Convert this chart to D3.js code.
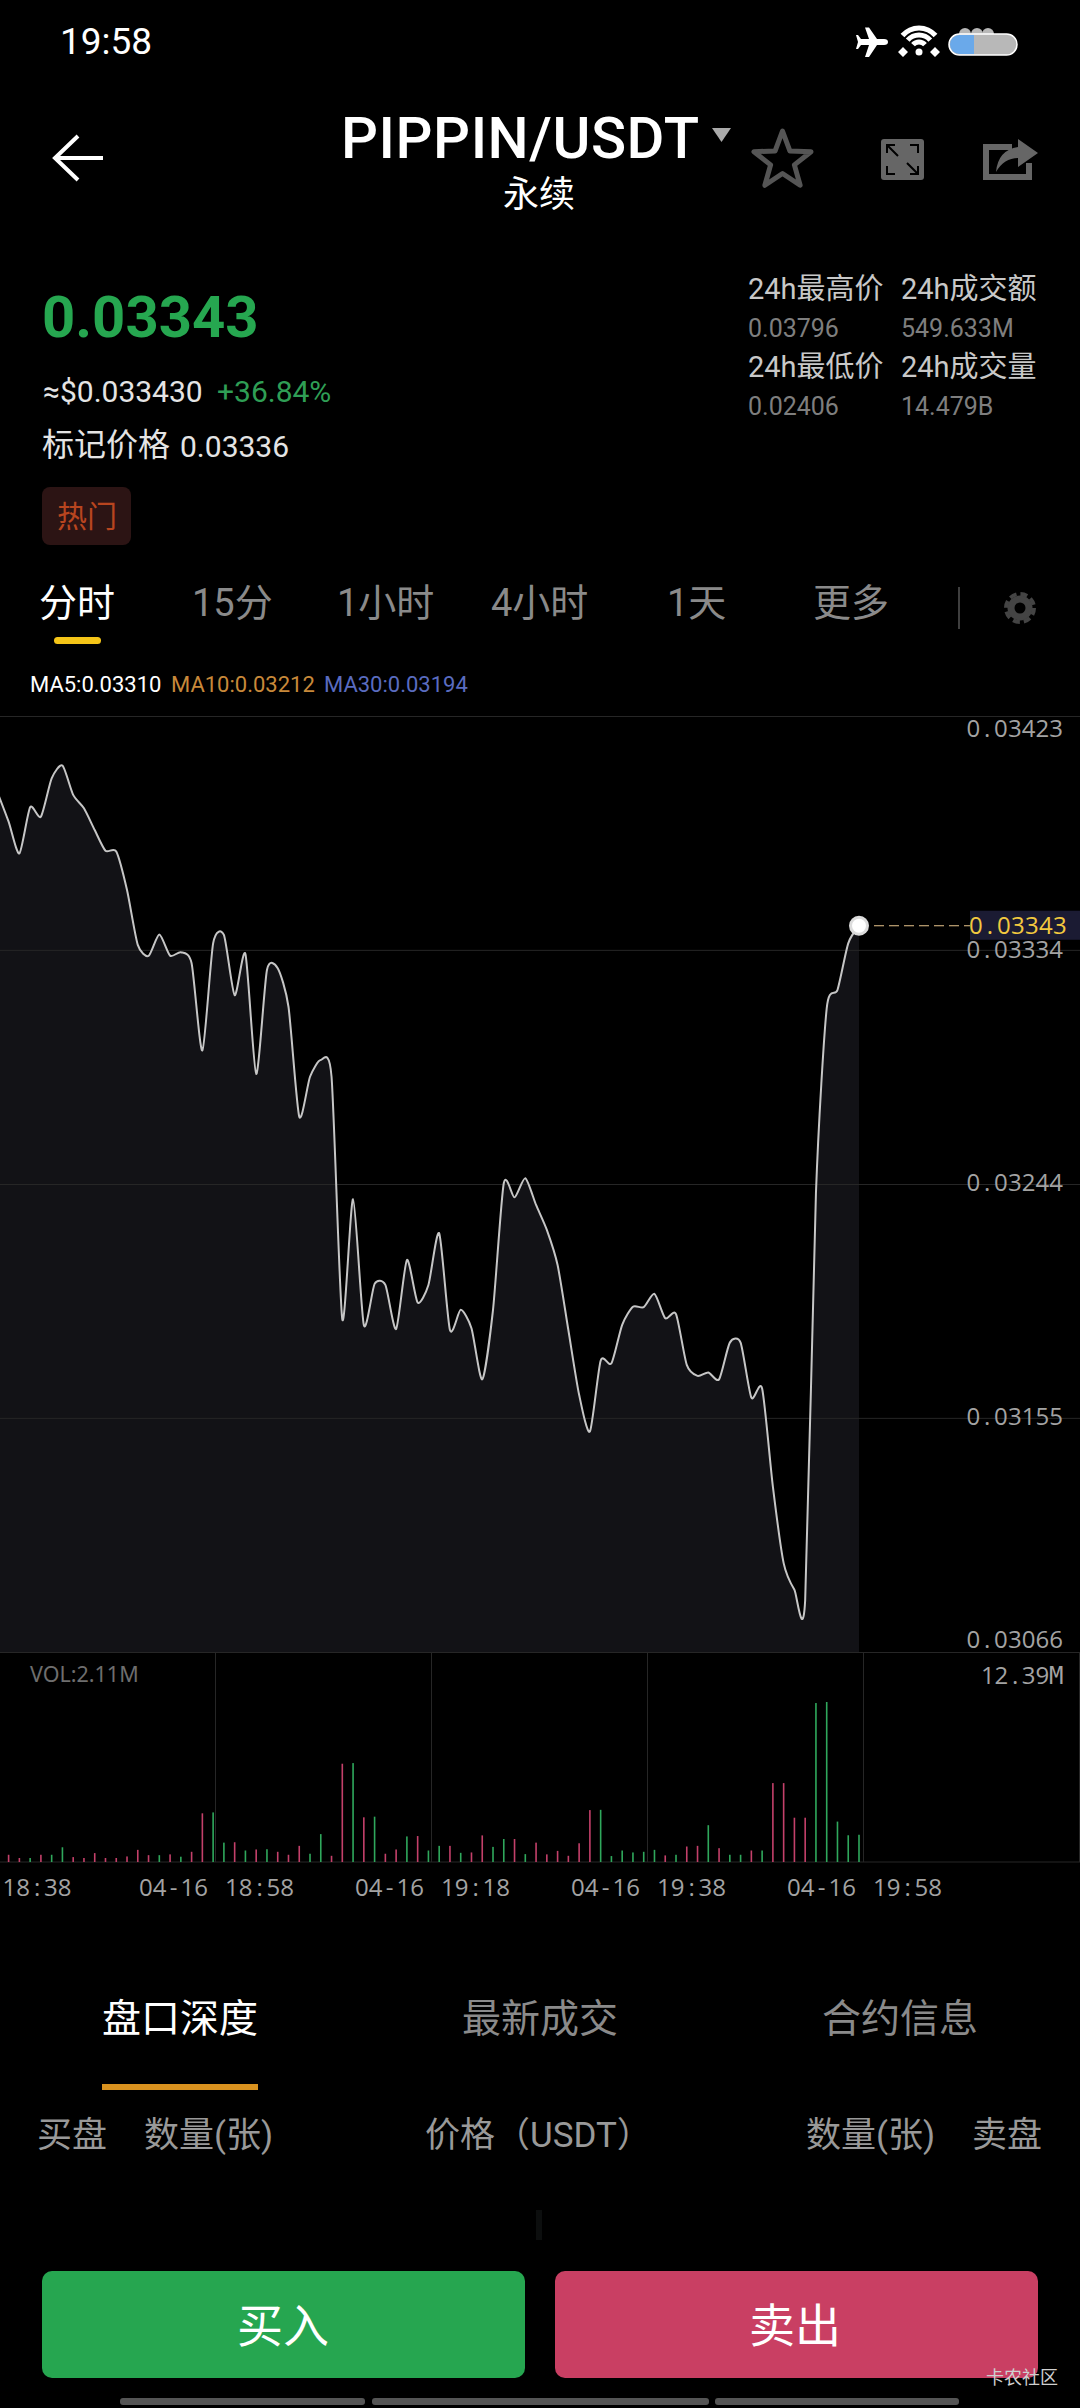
<!DOCTYPE html>
<html>
<head>
<meta charset="utf-8">
<script src="https://cdn.jsdelivr.net/npm/d3@7"></script>
<style>
  html, body { margin: 0; background: #000; }
  svg { display: block; }
  text { font-family: Roboto, "Noto Sans CJK SC", sans-serif; }
  .cjk { font-family: "Noto Sans CJK SC", sans-serif; }
  .tick text { font-family: "Open Sans", sans-serif; }
</style>
</head>
<body>
<script>
// prices per minute, first one sits just off the left edge
var prices = [
  0.033935, 0.033827, 0.033706, 0.033882, 0.033846, 0.033992, 0.034041, 0.033929, 0.033878, 0.033795,
  0.033716, 0.033713, 0.033566, 0.033357, 0.033315, 0.033397, 0.033316, 0.033329, 0.033287, 0.032954,
  0.033363, 0.033395, 0.033165, 0.033322, 0.032865, 0.033261, 0.033268, 0.033121, 0.032702, 0.032854,
  0.032918, 0.032854, 0.031929, 0.032387, 0.031907, 0.032064, 0.032060, 0.031892, 0.032155, 0.031993,
  0.032060, 0.032257, 0.031888, 0.031965, 0.031895, 0.031700, 0.031965, 0.032448, 0.032394, 0.032467,
  0.032365, 0.032270, 0.032136, 0.031888, 0.031641, 0.031501, 0.031771, 0.031761, 0.031908, 0.031977,
  0.031975, 0.032026, 0.031933, 0.031949, 0.031755, 0.031713, 0.031726, 0.031700, 0.031840, 0.031840,
  0.031630, 0.031665, 0.031291, 0.030999, 0.030897, 0.030858, 0.032410, 0.033115, 0.033185, 0.033363,
  0.033430
];
// volume in millions, same minutes
var volumes = [
  0.40, 0.56, 0.31, 0.31, 0.56, 0.56, 1.14, 0.38, 0.31, 0.69,
  0.31, 0.31, 0.43, 0.94, 0.53, 0.53, 0.59, 0.41, 0.79, 3.77,
  3.84, 1.50, 1.53, 0.89, 0.97, 0.99, 0.79, 0.56, 1.25, 0.64,
  2.16, 0.48, 7.61, 7.66, 3.46, 3.51, 0.64, 0.97, 1.98, 2.01,
  0.89, 1.25, 1.25, 0.71, 0.74, 2.06, 1.17, 1.78, 1.78, 0.61,
  1.50, 0.59, 0.86, 0.48, 1.45, 4.02, 4.04, 0.46, 0.89, 0.74,
  0.79, 0.94, 0.51, 0.56, 1.20, 1.25, 2.85, 1.07, 0.56, 0.56,
  0.89, 0.89, 6.11, 6.11, 3.43, 3.43, 12.31, 12.39, 3.13, 2.07,
  2.11
];
// 1 = green bar, 0 = red bar
var volumeUp = [
  0, 0, 0, 1, 0, 1, 1, 0, 0, 0,
  0, 0, 0, 0, 0, 1, 0, 1, 0, 0,
  1, 1, 0, 1, 0, 1, 0, 0, 0, 1,
  1, 0, 0, 1, 0, 1, 0, 0, 1, 0,
  1, 1, 0, 1, 0, 0, 1, 1, 0, 1,
  0, 0, 0, 0, 0, 0, 1, 1, 1, 1,
  1, 1, 0, 1, 0, 0, 1, 0, 1, 1,
  0, 1, 0, 0, 0, 0, 1, 1, 1, 1,
  1
];
var priceTicks = [0.03423, 0.033338, 0.032445, 0.031553, 0.03066];
var priceLabels = ["0.03423", "0.03334", "0.03244", "0.03155", "0.03066"];
var timeTicks = ["18:38", "18:58", "19:18", "19:38", "19:58", "20:18"];
var volTop = 12.39;
var lastPrice = 0.03343;
var maLabels = ["MA5:0.03310", "MA10:0.03212", "MA30:0.03194"];
var periods = ["分时", "15分", "1小时", "4小时", "1天", "更多"];
var bottomTabs = ["盘口深度", "最新成交", "合约信息"];
var depthHead = ["买盘", "数量(张)", "价格（USDT）", "数量(张)", "卖盘"];

var width = 1080, height = 2408;
var priceTop = 716, priceBottom = 1652, volBase = 1862;

var svg = d3.select("body").append("svg").attr("width", width).attr("height", height);

// small helper for all the plain labels
function label(str, x, y, size, color, anchor, cls) {
  return svg.append("text").attr("x", x).attr("y", y)
    .attr("font-size", size).attr("fill", color)
    .attr("text-anchor", anchor || "start")
    .attr("class", cls || null).text(str);
}

// the chart font is monospaced but has a plain zero, so place glyphs one by one
function monoText(sel, str, left, pitch, gap) {
  sel.text(null);
  var pos = left;
  str.split("").forEach(function(c) {
    if (c == " ") { pos += gap; return; }
    var shift = (c == "." || c == ":") ? 3.8 : (c == "-" ? 3.2 : 0);
    var t = sel.append("tspan").attr("x", pos + shift).text(c);
    if (c == "M") t.style("font-family", "DejaVu Sans Mono");
    pos += pitch;
  });
}

/* ---------- scales ---------- */
var x = d3.scalePoint().domain(d3.range(prices.length)).range([-2.16, 859]);
var y = d3.scaleLinear().domain([0.03066, 0.03423]).range([priceBottom, priceTop]);
var vol = d3.scaleLinear().domain([0, volTop]).range([volBase, 1702]);
var parseTime = d3.timeParse("%m-%d %H:%M");
var t = d3.scaleTime().domain([parseTime("04-16 18:38"), parseTime("04-16 19:58")]).range([-1, 863]);

/* ---------- price pane ---------- */
var curve = d3.curveCardinal.tension(0.3);
var area = d3.area().x(function(d, i) { return x(i); }).y0(priceBottom).y1(function(d) { return y(d); }).curve(curve);
var line = d3.line().x(function(d, i) { return x(i); }).y(function(d) { return y(d); }).curve(curve);

svg.append("path").datum(prices).attr("d", area).attr("fill", "#121216");

var yAxis = d3.axisRight(y).tickValues(priceTicks).tickSize(width)
  .tickFormat(function(d, i) { return priceLabels[i]; });
var yG = svg.append("g").call(yAxis);
yG.select(".domain").remove();
yG.selectAll(".tick line").attr("stroke", "#262626");
var yOffset = [20, 8, 6, 7, -5];
yG.selectAll(".tick text").each(function(d, i) {
  var sel = d3.select(this).attr("y", yOffset[i]).attr("dy", 0).attr("x", 0)
    .attr("text-anchor", "start").attr("font-size", 24).attr("fill", "#a3a3a3");
  monoText(sel, priceLabels[i], 966.5, 13.8, 0);
});

svg.append("path").datum(prices).attr("d", line)
  .attr("fill", "none").attr("stroke", "#c6c6c6").attr("stroke-width", 2);

// last price marker
var lastX = x(prices.length - 1);
svg.append("line").attr("x1", lastX + 15).attr("x2", 970).attr("y1", y(lastPrice)).attr("y2", y(lastPrice))
  .attr("stroke", "#e6c48c").attr("stroke-width", 1.2).attr("stroke-dasharray", "10 5");
svg.append("circle").attr("cx", lastX).attr("cy", y(lastPrice)).attr("r", 10).attr("fill", "#dcdcdc");
svg.append("circle").attr("cx", lastX).attr("cy", y(lastPrice)).attr("r", 7).attr("fill", "#fff");
svg.append("rect").attr("x", 970).attr("y", y(lastPrice) - 15).attr("width", 110).attr("height", 29).attr("fill", "#1b1b33");
var lastLabel = svg.append("text").attr("y", y(lastPrice) + 8).attr("font-size", 24).attr("fill", "#f2c93f")
  .style("font-family", "'Open Sans', sans-serif");
monoText(lastLabel, "0.03343", 969, 14, 0);

/* ---------- volume pane ---------- */
var xAxis = d3.axisBottom(t).tickValues(timeTicks.map(function(s) { return parseTime("04-16 " + s); })).tickSize(volBase - priceBottom);
var xG = svg.append("g").attr("transform", "translate(0," + priceBottom + ")").call(xAxis);
xG.select(".domain").remove();
xG.selectAll(".tick line").attr("stroke", "#262626");
xG.selectAll(".tick text").each(function(d, i) {
  var sel = d3.select(this).attr("y", 244).attr("dy", 0).attr("text-anchor", "start")
    .attr("font-size", 24).attr("fill", "#a3a3a3");
  if (i == timeTicks.length - 1) { sel.text(null); return; }
  // first label is pushed slightly left in the app
  monoText(sel, "04-16 " + timeTicks[i], i == 0 ? -83 : -76.5, 13.8, 17);
});

svg.append("line").attr("x1", 0).attr("x2", width).attr("y1", volBase).attr("y2", volBase).attr("stroke", "#262626");

svg.selectAll(".vol").data(volumes).enter().append("rect")
  .attr("class", "vol")
  .attr("x", function(d, i) { return x(i) - 0.8; })
  .attr("width", 1.6)
  .attr("y", function(d) { return vol(d); })
  .attr("height", function(d) { return volBase - vol(d); })
  .attr("fill", function(d, i) { return volumeUp[i] ? "#2fa85c" : "#c4406a"; });

label("VOL:2.11M", 30, 1682, 21.5, "#6e6e6e").style("font-family", "'Noto Sans', sans-serif");
var volMax = svg.append("g").attr("transform", "translate(0,0)")
  .call(d3.axisRight(vol).tickValues([volTop]).tickSize(0));
volMax.select(".domain").remove();
volMax.selectAll(".tick text").each(function() {
  var sel = d3.select(this).attr("y", -19).attr("dy", 0).attr("font-size", 24).attr("fill", "#a3a3a3");
  monoText(sel, "12.39M", 981, 13.6, 0);
});

/* ---------- status bar ---------- */
label("19:58", 60, 54, 37, "#fff");
svg.append("path").attr("fill", "#fff")
  .attr("d", "M888 42Q888 39 884 39L877 39L869 27.5L865 27.5L869 39L861 39L858 35L856 35L858 42L856 49L858 49L861 45L869 45L865 57L869 57L877 45L884 45Q888 45 888 42Z");
[8, 15, 22].forEach(function(r) {
  svg.append("path").attr("transform", "translate(919,50)").attr("fill", "#fff")
    .attr("d", d3.arc()({ innerRadius: r - 2.5, outerRadius: r + 2.5, startAngle: -0.85, endAngle: 0.85 }));
});
svg.append("circle").attr("cx", 919).attr("cy", 52).attr("r", 3.5).attr("fill", "#fff");
svg.append("path").attr("fill", "#fff").attr("d", "M903 47L908 52L898 52ZM903 57L908 52L898 52ZM935 47L940 52L930 52ZM935 57L940 52L930 52Z");
[965, 977, 988].forEach(function(cx) {
  svg.append("circle").attr("cx", cx).attr("cy", 34).attr("r", 6).attr("fill", "#b8b8b8");
});
svg.append("rect").attr("x", 949).attr("y", 34).attr("width", 68).attr("height", 21).attr("rx", 10.5).attr("fill", "#b8b8b8").attr("stroke", "#fff").attr("stroke-width", 1.5);
svg.append("path").attr("fill", "#6aa9ea").attr("d", "M974 35L959.5 35A9.5 9.5 0 0 0 959.5 54L974 54Z");

/* ---------- title bar ---------- */
svg.append("path").attr("d", "M103 158L56 158M78 136L55 158L78 180").attr("fill", "none").attr("stroke", "#fff").attr("stroke-width", 4);
label("PIPPIN/USDT", 341, 158, 58, "#fff").attr("font-weight", 500).attr("textLength", 358);
svg.append("path").attr("d", "M712 128L731 128L721.5 142Z").attr("fill", "#aaa");
label("永续", 539, 207, 36, "#fff", "middle", "cjk");

var star = d3.range(10).map(function(i) {
  var r = i % 2 ? 12.5 : 30, a = i * Math.PI / 5;
  return [782.5 + r * Math.sin(a), 161 - r * Math.cos(a)];
});
svg.append("path").attr("d", d3.line().curve(d3.curveLinearClosed)(star)).attr("fill", "none").attr("stroke", "#555").attr("stroke-width", 5).attr("stroke-linejoin", "round");

svg.append("rect").attr("x", 881).attr("y", 139).attr("width", 43).attr("height", 41).attr("rx", 3).attr("fill", "#666");
svg.append("path").attr("fill", "none").attr("stroke", "#000").attr("stroke-width", 2)
  .attr("d", "M887 153L887 145L895 145M887 145L898 156M918 166L918 174L910 174M918 174L907 163M910 145L918 145L918 153M887 166L887 174L895 174");

svg.append("path").attr("fill", "none").attr("stroke", "#666").attr("stroke-width", 6).attr("d", "M1012 147L986 147L986 177L1029 177L1029 163");
svg.append("path").attr("fill", "#666").attr("d", "M1018 139L1038 153L1018 167L1018 158Q1004 158 996 172Q998 150 1018 147Z");

/* ---------- price block ---------- */
label("0.03343", 42, 337, 58, "#26a750").attr("font-weight", 700);
label("≈$0.033430", 43, 402, 30, "#e4e4e4");
label("+36.84%", 217, 402, 30, "#2f9e55");
label("标记价格", 42, 456, 32, "#e4e4e4", "start", "cjk");
label("0.03336", 180, 457, 30, "#e4e4e4");
svg.append("rect").attr("x", 42).attr("y", 487).attr("width", 89).attr("height", 58).attr("rx", 8).attr("fill", "#2c1414");
label("热门", 87, 527, 30, "#b8451f", "middle", "cjk");

label("24h最高价", 748, 299, 29, "#c8c8c8");
label("24h成交额", 901, 299, 29, "#c8c8c8");
label("0.03796", 748, 337, 25, "#7e7e7e");
label("549.633M", 901, 337, 25, "#7e7e7e");
label("24h最低价", 748, 377, 29, "#c8c8c8");
label("24h成交量", 901, 377, 29, "#c8c8c8");
label("0.02406", 748, 415, 25, "#7e7e7e");
label("14.479B", 901, 415, 25, "#7e7e7e");

/* ---------- period tabs ---------- */
var periodX = [39, 192, 337, 491, 667, 813];
periods.forEach(function(p, i) {
  label(p, periodX[i], 616, 38, i == 0 ? "#fff" : "#8a8a8a");
});
svg.append("rect").attr("x", 54).attr("y", 637).attr("width", 47).attr("height", 7).attr("rx", 3.5).attr("fill", "#f5c518");
svg.append("line").attr("x1", 959).attr("x2", 959).attr("y1", 587).attr("y2", 629).attr("stroke", "#555").attr("stroke-width", 1.5);
svg.append("circle").attr("cx", 1020).attr("cy", 608).attr("r", 9).attr("fill", "none").attr("stroke", "#444").attr("stroke-width", 7);
svg.append("circle").attr("cx", 1020).attr("cy", 608).attr("r", 14).attr("fill", "none").attr("stroke", "#444").attr("stroke-width", 4).attr("stroke-dasharray", "7 4");

var maColors = ["#fff", "#c8893a", "#5a6cc0"];
var maX = [30, 171, 324];
maLabels.forEach(function(m, i) { label(m, maX[i], 692, 22, maColors[i]); });

/* ---------- bottom tabs and buttons ---------- */
var tabX = [180, 540, 900];
bottomTabs.forEach(function(s, i) {
  label(s, tabX[i], 2032, 39, i == 0 ? "#fff" : "#8a8a8a", "middle", "cjk");
});
svg.append("rect").attr("x", 102).attr("y", 2084).attr("width", 156).attr("height", 6).attr("fill", "#d9921f");

var headX = [37, 144, 425, 806, 972];
depthHead.forEach(function(s, i) {
  label(s, headX[i], 2147, 35, "#999", "start");
});
svg.append("rect").attr("x", 536).attr("y", 2210).attr("width", 6).attr("height", 30).attr("fill", "#0c0e0e");

svg.append("rect").attr("x", 42).attr("y", 2271).attr("width", 483).attr("height", 107).attr("rx", 10).attr("fill", "#26a650");
svg.append("rect").attr("x", 555).attr("y", 2271).attr("width", 483).attr("height", 107).attr("rx", 10).attr("fill", "#c93f63");
label("买入", 283, 2342, 46, "#fff", "middle", "cjk");
label("卖出", 795, 2342, 46, "#fff", "middle", "cjk");
label("卡农社区", 1058, 2384, 18, "#cfcfcf", "end", "cjk");

[[120, 245], [372, 337], [715, 244]].forEach(function(b) {
  svg.append("rect").attr("x", b[0]).attr("y", 2398).attr("width", b[1]).attr("height", 7).attr("rx", 3).attr("fill", "#555");
});
</script>
</body>
</html>
